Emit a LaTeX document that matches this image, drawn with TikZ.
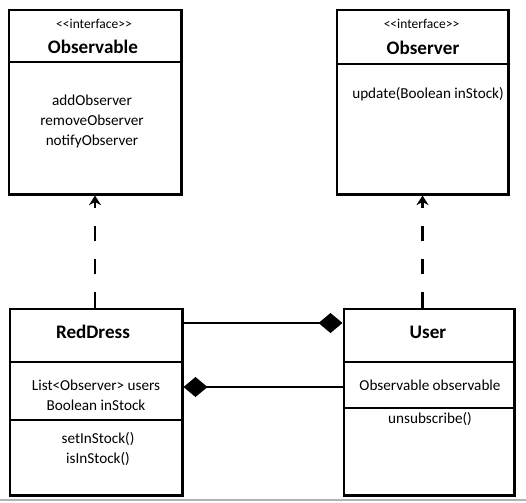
\documentclass[tikz,border=0pt]{standalone}
\usepackage{fontspec}
\setmainfont{Carlito}
\usetikzlibrary{arrows.meta,positioning}
\tikzstyle{classbox} = [rectangle, draw=black, line width=2.1pt, minimum width=4.3cm, minimum height=4.6cm, inner sep=0pt]
\tikzstyle{divider} = [line width=2.1pt]
\tikzstyle{thindiv} = [line width=0.8pt]
\tikzstyle{stereo} = [inner sep=0pt, font=\fontsize{9.6}{11}\selectfont]
\tikzstyle{classname} = [inner sep=0pt, font=\bfseries\fontsize{13.6}{16}\selectfont]
\tikzstyle{members} = [inner sep=0pt, align=center, font=\fontsize{10.8}{14.2}\selectfont]
\tikzstyle{realize} = [line width=2.1pt, dash pattern=on 0.38cm off 0.45cm, -{Stealth[length=0.24cm, width=0.3cm]}]
\tikzstyle{compose} = [line width=2.1pt, -{Diamond[length=0.6cm, width=0.5cm, line width=0pt]}]

\begin{document}
\begin{tikzpicture}[x=0.025cm, y=-0.025cm]
\useasboundingbox (0,0) rectangle (526,502);

% interfaces
\node (observable) [classbox] at (95,102) {};
\node (observer) [classbox, minimum width=4.275cm] at (422.5,102) {};
\draw[divider] (observable.west |- 0,62) -- (observable.east |- 0,62);
\draw[divider] (observer.west |- 0,64) -- (observer.east |- 0,64);
\node (observableStereo) [stereo] at (94,24) {<{}<interface>{}>};
\node (observableName) [classname] at (93,47) {Observable};
\node (observableOps) [members] at (92,121) {addObserver\\removeObserver\\notifyObserver};
\node (observerStereo) [stereo] at (421.5,24) {<{}<interface>{}>};
\node (observerName) [classname] at (423,48) {Observer};
\node (observerOps) [members, anchor=west] at (352,94) {update(Boolean inStock)};

% classes
\node (reddress) [classbox, minimum height=4.65cm] at (96,402) {};
\node (user) [classbox, minimum width=4.25cm, minimum height=4.65cm] at (429,402) {};
\draw[divider] (reddress.west |- 0,362) -- (reddress.east |- 0,362);
\draw[thindiv] (reddress.west |- 0,420) -- (reddress.east |- 0,420);
\draw[divider] (user.west |- 0,362) -- (user.east |- 0,362);
\draw[thindiv] (user.west |- 0,408) -- (user.east |- 0,408);
\node (reddressName) [classname] at (93,332) {RedDress};
\node (reddressAttrs) [members] at (96,395.5) {List<Observer> users\\Boolean inStock};
\node (reddressOps) [members] at (98,449) {setInStock()\\isInStock()};
\node (userName) [classname] at (428,332) {User};
\node (userAttrs) [members] at (430,385) {Observable observable};
\node (userOps) [members] at (430,419) {unsubscribe()};

% relations
\draw[realize] (observable.south |- reddress.north) -- (observable.south);
\draw[realize] (observer.south |- user.north) -- (observer.south);
\draw[compose] (reddress.east |- 0,323) -- (user.west |- 0,323);
\draw[compose] (user.west |- 0,387) -- (reddress.east |- 0,387);

\draw[black!30, line width=0.8pt] (0,500) -- (526,500);
\end{tikzpicture}
\end{document}
